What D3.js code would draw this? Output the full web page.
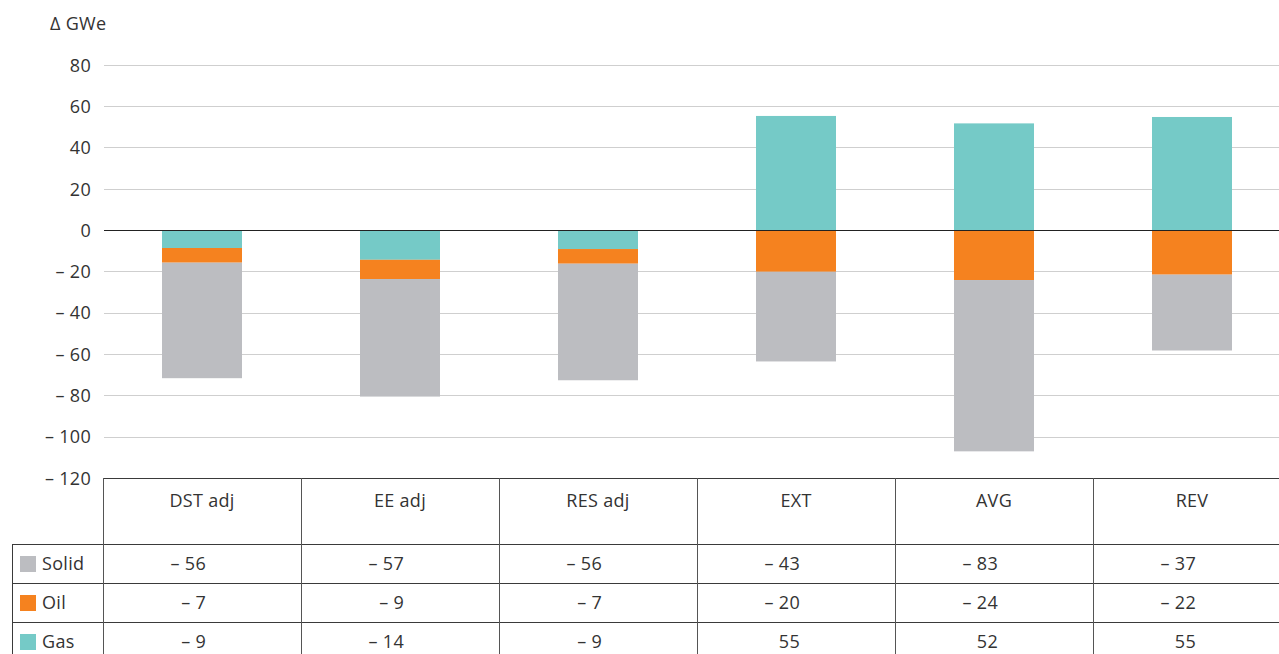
<!DOCTYPE html>
<html><head><meta charset="utf-8">
<script src="https://cdn.jsdelivr.net/npm/d3@7"></script>
<style>body{margin:0;background:#fff}svg{display:block;font-family:"Open Sans",sans-serif}text{letter-spacing:0.3px}</style>
</head><body>
<svg id="c" width="1279" height="654"></svg>
<script>
const categories = ["DST adj","EE adj","RES adj","EXT","AVG","REV"];
const seriesNames = ["Solid","Oil","Gas"];
const solid = [-55.9,-56.9,-56.4,-43.4,-82.9,-36.7];
const oil = [-7.1,-9.3,-7.1,-20.2,-24.2,-21.6];
const gas = [-8.7,-14.4,-9.2,55.2,51.6,54.7];
const yTicks = [80,60,40,20,0,-20,-40,-60,-80,-100,-120];
const colors = {Solid:"#bcbdc1", Oil:"#f5821f", Gas:"#75cac7"};

const svg = d3.select("#c");
const W = 1279;
const left = 103, colW = 198;
const FS = 18;
const x = d3.scaleBand().domain(categories).range([left, left + colW*categories.length]).paddingInner(0).paddingOuter(0);
const y = d3.scaleLinear().domain([-120, 80]).range([478, 64.7]);
const barW = 80;
const fmt = v => { const r = Math.round(v); return r < 0 ? "\u2013 " + Math.abs(r) : String(r); };

// gridlines
svg.append("g").selectAll("line").data(yTicks.filter(t => t !== 0 && t !== -120)).join("line")
  .attr("x1", left+1).attr("x2", W).attr("y1", d => Math.round(y(d))+0.5).attr("y2", d => Math.round(y(d))+0.5)
  .attr("stroke", "#cfcfcf").attr("stroke-width", 1);

// axis labels via d3 axis
const yAxis = d3.axisLeft(y).tickValues(yTicks).tickSize(0).tickPadding(0).tickFormat(fmt);
const ag = svg.append("g").attr("transform", "translate(91,0)").call(yAxis);
ag.select(".domain").remove();
ag.selectAll("text").attr("font-size", FS).attr("fill", "#333").attr("font-family", "Open Sans").attr("dy", "0.35em");

svg.append("text").attr("x", 50).attr("y", 30).attr("font-size", FS).attr("fill", "#333").text("\u0394 GWe");

// stacked bars
const data = categories.map((c,i) => ({cat:c, Solid:solid[i], Oil:oil[i], Gas:gas[i]}));
const order = ["Gas","Oil","Solid"];
data.forEach(d => {
  let pos = 0, neg = 0;
  order.forEach(k => {
    const v = d[k];
    let y0, y1;
    if (v >= 0) { y0 = pos; y1 = pos + v; pos = y1; } else { y0 = neg; y1 = neg + v; neg = y1; }
    svg.append("rect")
      .attr("x", x(d.cat) + (colW - barW)/2)
      .attr("width", barW)
      .attr("y", y(Math.max(y0,y1)))
      .attr("height", Math.abs(y(y0) - y(y1)))
      .attr("fill", colors[k]);
  });
});

// zero line
svg.append("line").attr("x1", left+1).attr("x2", W).attr("y1", Math.round(y(0))+0.5).attr("y2", Math.round(y(0))+0.5)
  .attr("stroke", "#222").attr("stroke-width", 1.2);

// table
const tg = svg.append("g");
const rowY = [478, 544.5, 583.5, 622.5];
const lineC = "#3a3a3a";
tg.append("line").attr("x1", left).attr("x2", W).attr("y1", 478.5).attr("y2", 478.5).attr("stroke", lineC);
[544.5, 583.5, 622.5].forEach(yy => tg.append("line").attr("x1", 12).attr("x2", W).attr("y1", yy).attr("y2", yy).attr("stroke", lineC));
tg.append("line").attr("x1", 12.5).attr("x2", 12.5).attr("y1", 544.5).attr("y2", 654).attr("stroke", lineC);
categories.forEach(c => {
  const xx = Math.round(x(c)) + 0.5;
  tg.append("line").attr("x1", xx).attr("x2", xx).attr("y1", 478).attr("y2", 654).attr("stroke", "#555");
});
// header labels
tg.selectAll("text.h").data(categories).join("text").attr("class","h")
  .attr("x", d => x(d) + colW/2).attr("y", 507).attr("text-anchor", "middle")
  .attr("font-size", FS).attr("fill", "#333").text(d => d);
// rows
const rows = [["Solid", solid], ["Oil", oil], ["Gas", gas]];
rows.forEach(([name, vals], r) => {
  const top = rowY[r+1];
  const cy = top + 19.5;
  tg.append("rect").attr("x", 20).attr("y", cy - 8).attr("width", 16).attr("height", 16).attr("fill", colors[name]);
  tg.append("text").attr("x", 42).attr("y", cy).attr("dy", "0.35em").attr("font-size", FS).attr("fill", "#333").text(name);
  vals.forEach((v, i) => {
    tg.append("text").attr("x", x(categories[i]) + colW/2 + 4).attr("y", cy).attr("dy", "0.35em")
      .attr("text-anchor", "end").attr("font-size", FS).attr("fill", "#333").text(fmt(v));
  });
});
</script>
</body></html>
